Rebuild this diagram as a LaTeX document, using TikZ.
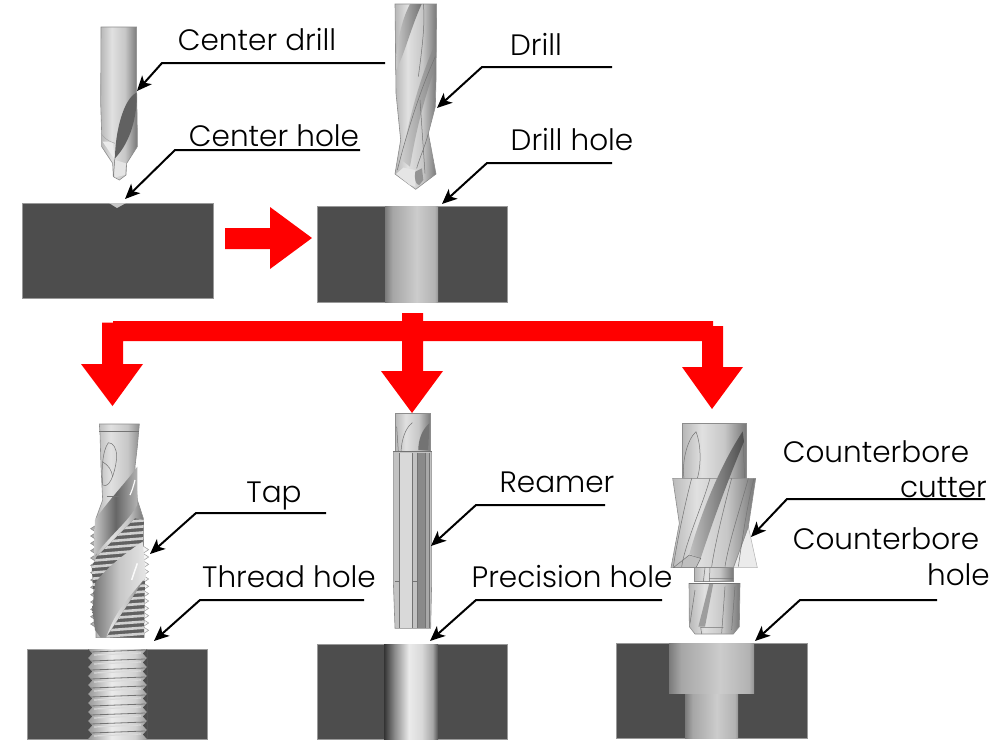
\documentclass[tikz,border=0pt]{standalone}
\usepackage{fontspec}
\setmainfont{Poppins}[UprightFont=* Light]
\usetikzlibrary{arrows.meta}
\definecolor{blockgray}{RGB}{77,77,77}
\definecolor{arrowred}{RGB}{255,0,0}
\pgfdeclarehorizontalshading{holedrill}{100bp}{color(0bp)=(black!52); color(25bp)=(black!52); color(32bp)=(black!35); color(55bp)=(black!20); color(72bp)=(black!30); color(75bp)=(black!42); color(100bp)=(black!42)}
\pgfdeclarehorizontalshading{holeprecise}{100bp}{color(0bp)=(black!80); color(25bp)=(black!80); color(35bp)=(black!45); color(48bp)=(black!8); color(60bp)=(black!15); color(70bp)=(black!35); color(75bp)=(black!68); color(100bp)=(black!68)}
\pgfdeclarehorizontalshading{toolbody}{100bp}{color(0bp)=(black!28); color(25bp)=(black!28); color(40bp)=(black!12); color(58bp)=(black!22); color(72bp)=(black!48); color(75bp)=(black!52); color(100bp)=(black!52)}
\pgfdeclarehorizontalshading{threadbody}{100bp}{color(0bp)=(black!40); color(25bp)=(black!40); color(45bp)=(black!8); color(65bp)=(black!18); color(75bp)=(black!40); color(100bp)=(black!40)}
\tikzset{
	block/.style={fill=blockgray, draw=black!40, line width=0.6pt},
	bigarrow/.style={fill=arrowred, draw=none},
	leader/.style={draw=black, line width=2pt, line join=miter, -{Stealth[length=15pt,width=13pt,inset=4pt]}},
	toolline/.style={draw=black!55, line width=0.5pt},
	toolout/.style={draw=black!45, line width=0.6pt},
	labeltext/.style={font=\fontsize{29.5}{32}\selectfont, inner sep=0pt, text=black, anchor=base}
}

\begin{document}
\begin{tikzpicture}[x=1pt, y=-1pt]
	\useasboundingbox (0,0) rectangle (1008,750);

	%work blocks
	\draw[block] (22,203) rectangle (213,298);
	\fill[black!22] (109,203) -- (126,203) -- (117,208) -- cycle;
	\draw[block] (317,206) rectangle (507,302);
	\shade[shading=holedrill] (385,206) rectangle (438,302);
	\draw[block] (27,649) rectangle (207,739);
	\shade[shading=threadbody] (88,649) rectangle (147,739);
	\foreach \yy in {649,658,...,731}{
		\draw[black!55, line width=0.8pt] (90,\yy+3) -- (145,\yy+1);
		\draw[white!85!black, line width=1.2pt] (94,\yy+6) -- (141,\yy+4);
		\fill[blockgray] (88,\yy) -- (92,\yy+4.5) -- (88,\yy+9) -- cycle;
		\fill[blockgray] (147,\yy) -- (143,\yy+4.5) -- (147,\yy+9) -- cycle;
	}
	\draw[block] (317,644) rectangle (507,739);
	\shade[shading=holeprecise] (384,644) rectangle (438,739);
	\draw[block] (616,643) rectangle (807,738);
	\shade[shading=holedrill] (685,693) rectangle (738,738);
	\shade[shading=holedrill] (669,643) rectangle (754,693);

	%red arrows
	\fill[bigarrow] (225,228) -- (270,228) -- (270,207) -- (312,238) -- (270,269) -- (270,249) -- (225,249) -- cycle;
	\fill[bigarrow] (402,313) -- (423,313) -- (423,321) -- (713,321) -- (713,326) -- (723,326) -- (723,367) -- (743,367) -- (712,409) -- (682,367) -- (702,367) -- (702,341)
		-- (423,341) -- (423,371) -- (443,371) -- (412,413) -- (381,371) -- (402,371) -- (402,341)
		-- (123,341) -- (123,364) -- (143,364) -- (112.5,406) -- (81,364) -- (102,364) -- (102,322.5) -- (113,322.5) -- (113,321) -- (402,321) -- cycle;

	%center drill
	\begin{scope}[shift={(0,0)}, scale=1/3]
		\shade[shading=toolbody, toolout] (303,81) -- (410,81) -- (410,275) -- (412,400) -- (412,440) -- (380,490) -- (378,525) -- (358,540) -- (340,530) -- (338,490) -- (305,440) -- (305,400) -- (302,310) -- cycle;
		\fill[black!62] (410,278) .. controls (370,295) and (345,400) .. (345,475) .. controls (392,425) and (412,350) .. cycle;
		\fill[black!8] (308,425) -- (338,425) -- (345,480) -- cycle;
		\fill[black!10] (345,480) -- (378,490) -- (375,525) -- (345,532) -- cycle;
		\draw[black!35, line width=0.5pt] (303,400) .. controls (320,425) and (335,425) .. (345,430);
		\draw[toolline] (345,470) -- (340,530);
	\end{scope}

	%drill
	\begin{scope}[shift={(310,0)}, scale=1/3]
		\shade[shading=toolbody, toolout] (255,12) -- (380,12) -- (378,240) -- (376,320) -- (355,400) -- (378,522) -- (317,568) -- (255,522) -- (272,420) -- (258,280) -- cycle;
		\shade[left color=black!22, right color=black!55] (300,12) .. controls (275,60) and (258,130) .. (258,210) .. controls (285,160) and (300,90) .. (335,12) -- cycle;
		\shade[left color=black!20, right color=black!48] (376,130) .. controls (340,210) and (300,330) .. (275,480) -- (300,500) .. controls (320,380) and (345,290) .. (376,200) -- cycle;
		\fill[black!10] (258,522) -- (280,503) -- (316,510) -- (316,560) -- (300,555) -- cycle;
		\fill[black!42] (316,515) .. controls (312,540) and (318,555) .. (328,555) -- (340,540) -- (336,505) -- cycle;
		\draw[toolline] (340,12) .. controls (345,60) and (340,120) .. (325,230);
		\draw[toolline] (376,170) .. controls (330,270) and (290,400) .. (262,510);
		\draw[toolline] (330,300) -- (345,520);
		\draw[toolline] (355,400) .. controls (345,440) and (330,470) .. (320,505);
	\end{scope}

	%tap
	\begin{scope}[shift={(20,410)}, scale=1/3]
		\shade[shading=toolbody, toolout] (238,42) -- (358,42) -- (352,110) -- (345,170) -- (352,270) -- (370,325) -- (372,683) -- (228,683) -- (228,325) -- (248,270) -- (243,170) -- (240,70) -- cycle;
		\foreach \yy in {345,367,...,650}{
			\draw[toolout, fill=black!30] (229,\yy) -- (212,\yy+11) -- (229,\yy+22);
		}
		\foreach \yy in {400,422,...,650}{
			\draw[black!35, line width=0.6pt, fill=black!4] (369,\yy+8) -- (386,\yy+19) -- (369,\yy+30);
		}
		\begin{scope}
			\clip (345,325) -- (372,330) -- (368,395) -- (240,520) -- (222,575) -- (215,470) -- (230,440) -- cycle;
			\fill[black!62] (210,320) rectangle (380,580);
			\foreach \yy in {330,348,...,620}{
				\draw[black!18, line width=2.6pt] (205,\yy+15) -- (385,\yy);
			}
		\end{scope}
		\begin{scope}
			\clip (375,505) -- (258,683) -- (372,683) -- cycle;
			\fill[black!62] (250,500) rectangle (380,690);
			\foreach \yy in {490,508,...,700}{
				\draw[black!18, line width=2.6pt] (250,\yy+10) -- (385,\yy);
			}
		\end{scope}
		\shade[left color=black!22, right color=black!30, middle color=black!60] (352,170) .. controls (320,215) and (270,265) .. (225,330) -- (222,440) .. controls (275,370) and (320,340) .. (352,285) -- (352,270) -- cycle;
		\shade[left color=black!55, right color=black!10, middle color=black!22] (368,395) .. controls (330,420) and (260,470) .. (225,520) -- (217,600) -- (225,660) -- (242,683) -- (258,683) .. controls (285,600) and (330,560) .. (378,500) -- cycle;
		\draw[black!2, line width=1.5pt] (352,460) .. controls (345,480) and (340,495) .. (335,510);
		\draw[black!2, line width=1.2pt] (345,210) .. controls (340,230) and (335,245) .. (330,255);
		\draw[toolline] (265,98) .. controls (245,125) and (245,190) .. (248,225) .. controls (275,240) and (290,160) .. (290,140) .. controls (290,115) and (280,98) .. (265,98);
		\draw[toolline] (247,155) .. controls (265,165) and (275,180) .. (278,200);
		\draw[toolline] (238,65) -- (358,65);
		\draw[toolline] (260,260) -- (300,260);
	\end{scope}

	%reamer
	\begin{scope}[shift={(310,400)}, scale=1/3]
		\shade[shading=toolbody, toolout] (255,40) -- (362,40) -- (362,155) -- (255,155) -- cycle;
		\fill[black!55] (358,70) .. controls (335,90) and (325,120) .. (325,150) -- (355,150) -- cycle;
		\draw[toolline] (307,68) .. controls (285,85) and (275,120) .. (273,155);
		\draw[toolline] (260,80) -- (265,155);
		\fill[black!24, draw=black!45, line width=0.6pt] (250,155) -- (365,155) -- (365,545) -- (362,685) -- (255,685) -- (250,545) -- cycle;
		\fill[black!46] (322,158) rectangle (345,685);
		\fill[black!34] (345,158) rectangle (358,685);
		\fill[black!15] (268,158) rectangle (307,685);
		\foreach \xx in {268,307,322,345,358}{
			\draw[toolline] (\xx,158) -- (\xx,685);
		}
		\draw[toolline] (255,545) -- (268,545) (307,545) -- (322,545);
		\draw[toolline] (250,155) -- (365,155);
	\end{scope}

	%counterbore cutter
	\begin{scope}[shift={(610,410)}, scale=1/3]
		\shade[shading=toolbody, toolout] (218,40) -- (408,40) -- (408,205) -- (218,205) -- cycle;
		\draw[toolline] (258,65) .. controls (230,90) and (215,160) .. (222,205);
		\draw[toolline] (258,65) .. controls (272,100) and (275,160) .. (262,205);
		\draw[toolline] (398,65) .. controls (375,100) and (360,160) .. (355,205);
		\draw[toolline] (398,65) -- (404,205);
		\fill[black!8, draw=black!30, line width=0.5pt] (415,350) -- (442,473) -- (370,473) -- cycle;
		\shade[shading=toolbody, toolout] (188,205) -- (437,205) -- (415,350) -- (370,473) -- (183,473) -- (208,340) -- cycle;
		\shade[left color=black!25, right color=black!70] (398,65) .. controls (360,120) and (290,250) .. (238,432) -- (272,445) .. controls (310,330) and (350,220) .. (402,95) -- cycle;
		\fill[black!25, draw=black!55, line width=0.5pt] (190,473) -- (238,435) -- (272,445) -- (258,473) -- cycle;
		\foreach \xa/\xb in {245/190,300/215,365/305,415/345,432/385}{
			\draw[toolline] (\xa,205) .. controls (\xa-20,280) and (\xb+10,400) .. (\xb,470);
		}
		\shade[shading=toolbody, toolout] (253,473) -- (370,473) -- (370,515) -- (253,515) -- cycle;
		\draw[toolline] (285,473) -- (280,515) (300,473) -- (298,515) (298,505) -- (370,505);
		\shade[shading=toolbody, toolout] (237,520) -- (390,520) -- (388,650) -- (370,672) -- (255,672) -- (238,650) -- cycle;
		\fill[black!38] (298,520) -- (265,650) -- (285,650) -- (310,520) -- cycle;
		\draw[toolline] (255,540) -- (240,640) (345,530) -- (335,670) (375,530) -- (365,660);
		\draw[toolline] (272,652) -- (340,652) (275,672) -- (272,652);
		\draw[toolline] (237,520) -- (390,520);
	\end{scope}

	%labels
	\node[labeltext] (centerdrill) at (257,50) {Center drill};
	\node[labeltext] (centerhole) at (274,146) {Center hole};
	\node[labeltext] (drill) at (536,55) {Drill};
	\node[labeltext] (drillhole) at (572,150) {Drill hole};
	\node[labeltext] (tap) at (274,502) {Tap};
	\node[labeltext] (threadhole) at (289,587) {Thread hole};
	\node[labeltext] (reamer) at (557,492) {Reamer};
	\node[labeltext] (precisionhole) at (572,587) {Precision hole};
	\node[labeltext] (cutterA) at (876,462) {Counterbore};
	\node[labeltext, anchor=base east] (cutterB) at (987,497) {cutter};
	\node[labeltext] (cboreA) at (886,549) {Counterbore};
	\node[labeltext, anchor=base east] (cboreB) at (990,585) {hole};

	%leaders
	\coordinate (centerdrillS) at (385,63);
	\coordinate (centerdrillM) at (162,63);
	\coordinate (centerdrillE) at (137,91);
	\coordinate (centerholeS) at (360,150);
	\coordinate (centerholeM) at (175,150);
	\coordinate (centerholeE) at (125,199);
	\coordinate (drillS) at (612,67);
	\coordinate (drillM) at (482,67);
	\coordinate (drillE) at (437,108);
	\coordinate (drillholeS) at (612,163);
	\coordinate (drillholeM) at (487,163);
	\coordinate (drillholeE) at (442,204);
	\coordinate (tapS) at (326,513);
	\coordinate (tapM) at (196,513);
	\coordinate (tapE) at (150,554);
	\coordinate (threadholeS) at (364,600);
	\coordinate (threadholeM) at (200,600);
	\coordinate (threadholeE) at (154,641);
	\coordinate (reamerS) at (605,505);
	\coordinate (reamerM) at (476,505);
	\coordinate (reamerE) at (431,546);
	\coordinate (precisionS) at (662,600);
	\coordinate (precisionM) at (476,600);
	\coordinate (precisionE) at (430,641);
	\coordinate (cutterS) at (985,499);
	\coordinate (cutterM) at (787,499);
	\coordinate (cutterE) at (751,537);
	\coordinate (cboreS) at (937,600);
	\coordinate (cboreM) at (800,600);
	\coordinate (cboreE) at (755,641);
	\foreach \lead in {centerdrill,centerhole,drill,drillhole,tap,threadhole,reamer,precision,cutter,cbore}{
		\draw[leader] (\lead S) -- (\lead M) -- (\lead E);
	}

\end{tikzpicture}
\end{document}
